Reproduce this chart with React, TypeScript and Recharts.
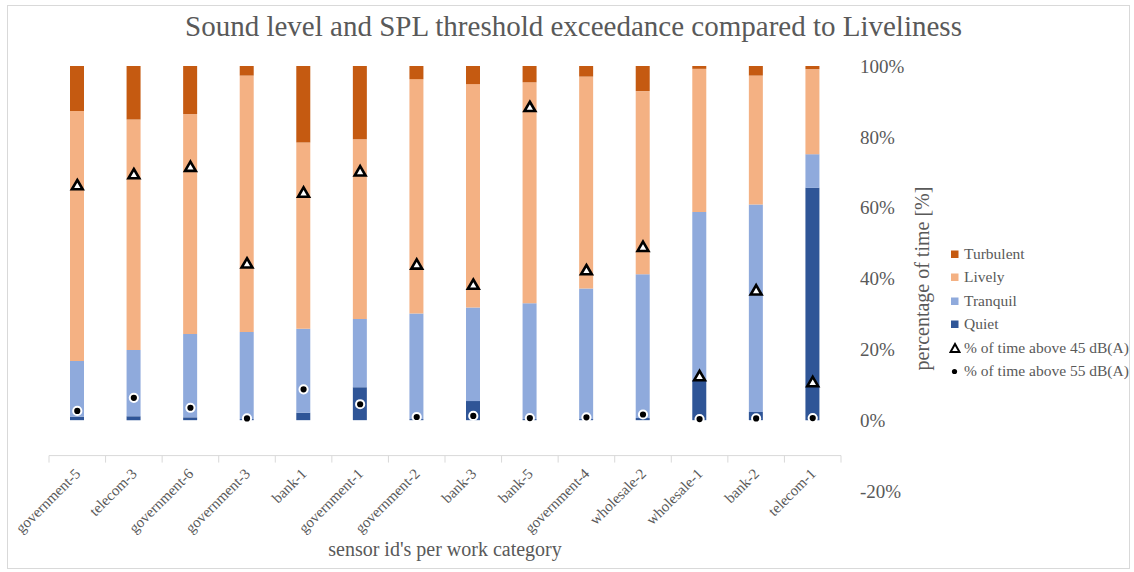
import React from "react";
import { ComposedChart, Bar, Line, XAxis, YAxis, Legend, ReferenceLine } from "recharts";

const categories = ["government-5","telecom-3","government-6","government-3","bank-1","government-1","government-2","bank-3","bank-5","government-4","wholesale-2","wholesale-1","bank-2","telecom-1"];
const quiet = [1, 1.1, 0.8, 0.3, 2.1, 9.3, 0.3, 5.4, 0.3, 0.3, 0.6, 11.3, 2.3, 65.6];
const tranquil = [15.7, 18.7, 23.5, 24.6, 23.7, 19.3, 29.8, 26.4, 32.7, 36.9, 40.6, 47.5, 58.6, 9.5];
const lively = [70.6, 65.1, 62.1, 72.4, 52.6, 50.7, 66.2, 63.1, 62.4, 59.8, 51.7, 40.4, 36.4, 24.0];
const turbulent = [12.7, 15.1, 13.6, 2.7, 21.6, 20.7, 3.7, 5.1, 4.6, 3.0, 7.1, 0.8, 2.7, 0.9];
const above45 = [66.4, 69.5, 71.6, 44.3, 64.3, 70.3, 44.0, 38.3, 88.5, 42.4, 49.0, 12.5, 36.7, 10.8];
const above55 = [2.6, 6.3, 3.5, 0.5, 8.7, 4.5, 0.9, 1.2, 0.6, 0.8, 1.6, 0.3, 0.5, 0.6];
const yTicks = [-20, 0, 20, 40, 60, 80, 100];
const AXIS_CROSS = -10;

const TITLE = "Sound level and SPL threshold exceedance compared to Liveliness";
const X_TITLE = "sensor id's per work category";
const Y_TITLE = "percentage of time [%]";

const COLORS = { Quiet: "#2F5597", Tranquil: "#8FAADC", Lively: "#F4B183", Turbulent: "#C55A11" };
const legendItems = [
  { name: "Turbulent", kind: "square" },
  { name: "Lively", kind: "square" },
  { name: "Tranquil", kind: "square" },
  { name: "Quiet", kind: "square" },
  { name: "% of time above 45 dB(A)", kind: "triangle" },
  { name: "% of time above 55 dB(A)", kind: "dot" },
];

const data = categories.map((c, i) => ({
  name: c,
  Quiet: quiet[i],
  Tranquil: tranquil[i],
  Lively: lively[i],
  Turbulent: turbulent[i],
  above45: above45[i],
  above55: above55[i],
}));

const FONT = "'Liberation Serif', 'Times New Roman', serif";
const TEXT = "#595959";
const W = 1134;
const H = 572;
const XAXIS_H = 81;
const YAXIS_W = 100;
const M = { top: 66, right: 193, bottom: 0, left: 49 };
const Y_MIN = -20;
const Y_MAX = 100;
const PLOT_H = H - M.top - M.bottom - XAXIS_H;
const PX_PER_UNIT = PLOT_H / (Y_MAX - Y_MIN);
const AXIS_DROP = (AXIS_CROSS - Y_MIN) * PX_PER_UNIT;

const Triangle = (props: any) => {
  const { cx, cy } = props;
  if (cx == null || cy == null) return null;
  return (
    <path
      d={`M${cx},${cy - 5} L${cx + 5.4},${cy + 4.3} L${cx - 5.4},${cy + 4.3} Z`}
      fill="#fff"
      stroke="#000"
      strokeWidth={2.6}
      strokeLinejoin="miter"
    />
  );
};

const Dot = (props: any) => {
  const { cx, cy } = props;
  if (cx == null || cy == null) return null;
  return <circle cx={cx} cy={cy} r={4.1} fill="#000" stroke="#fff" strokeWidth={2} />;
};

const CatTick = (props: any) => {
  const { x, y, payload, index } = props;
  const off = payload && payload.offset != null ? payload.offset : 28.3;
  const ay = y - AXIS_DROP;
  return (
    <g>
      <line x1={x - off} x2={x - off} y1={ay} y2={ay + 7} stroke="#d9d9d9" strokeWidth={1} />
      {index === categories.length - 1 && (
        <line x1={x + off} x2={x + off} y1={ay} y2={ay + 7} stroke="#d9d9d9" strokeWidth={1} />
      )}
      <text
        x={x + 4}
        y={ay + 19}
        transform={`rotate(-45, ${x + 4}, ${ay + 19})`}
        textAnchor="end"
        fill={TEXT}
        fontFamily={FONT}
        fontSize={15}
      >
        {payload.value}
      </text>
    </g>
  );
};

const LegendContent = () => (
  <div style={{ fontFamily: FONT, fontSize: 15.5, color: TEXT }}>
    {legendItems.map((it) => (
      <div key={it.name} style={{ height: 23.5, display: "flex", alignItems: "center", whiteSpace: "nowrap" }}>
        <svg width={12} height={12} style={{ marginRight: 3 }}>
          {it.kind === "square" && <rect x={2} y={2.5} width={7.5} height={7.5} fill={(COLORS as any)[it.name]} />}
          {it.kind === "triangle" && (
            <path d="M6,2 L10.5,10 L1.5,10 Z" fill="#fff" stroke="#000" strokeWidth={2} />
          )}
          {it.kind === "dot" && <circle cx={5.5} cy={6.5} r={2.6} fill="#000" />}
        </svg>
        <span>{it.name}</span>
      </div>
    ))}
  </div>
);

export default function App() {
  return (
    <div style={{ position: "absolute", left: 0, top: 0, width: W, height: H, background: "#fff" }}>
      <div
        style={{
          position: "absolute",
          left: 7,
          top: 5,
          width: 1123,
          height: 564,
          border: "1px solid #d9d9d9",
          boxSizing: "border-box",
        }}
      />
      <div
        style={{
          position: "absolute",
          left: 0,
          top: 12.4,
          width: 1147,
          textAlign: "center",
          fontFamily: FONT,
          fontSize: 29,
          lineHeight: "29px",
          color: TEXT,
          whiteSpace: "nowrap",
        }}
      >
        {TITLE}
      </div>
      <ComposedChart width={W} height={H} data={data} margin={M} barCategoryGap={0}>
        <XAxis
          dataKey="name"
          axisLine={false}
          tickLine={false}
          tickSize={0}
          tickMargin={0}
          interval={0}
          height={XAXIS_H}
          tick={<CatTick />}
          label={(p: any) => {
            const vb = p.viewBox || {};
            return (
              <text
                x={vb.x + vb.width / 2}
                y={vb.y + 65}
                textAnchor="middle"
                fill={TEXT}
                fontFamily={FONT}
                fontSize={20}
              >
                {X_TITLE}
              </text>
            );
          }}
        />
        <YAxis
          orientation="right"
          domain={[Y_MIN, Y_MAX]}
          ticks={yTicks}
          allowDataOverflow
          width={YAXIS_W}
          axisLine={false}
          tickLine={false}
          tickSize={0}
          tickMargin={19}
          tickFormatter={(v: number) => `${v}%`}
          tick={{ fill: TEXT, fontFamily: FONT, fontSize: 19 }}
          label={(p: any) => {
            const vb = p.viewBox || {};
            const cx = vb.x + 81;
            const cy = vb.y + vb.height / 2;
            return (
              <text
                x={cx}
                y={cy}
                transform={`rotate(-90, ${cx}, ${cy})`}
                textAnchor="middle"
                dominantBaseline="central"
                fill={TEXT}
                fontFamily={FONT}
                fontSize={20}
              >
                {Y_TITLE}
              </text>
            );
          }}
        />
        <ReferenceLine y={AXIS_CROSS} stroke="#d9d9d9" strokeWidth={1} />
        <Bar dataKey="Quiet" stackId="a" fill={COLORS.Quiet} barSize={14} isAnimationActive={false} />
        <Bar dataKey="Tranquil" stackId="a" fill={COLORS.Tranquil} barSize={14} isAnimationActive={false} />
        <Bar dataKey="Lively" stackId="a" fill={COLORS.Lively} barSize={14} isAnimationActive={false} />
        <Bar dataKey="Turbulent" stackId="a" fill={COLORS.Turbulent} barSize={14} isAnimationActive={false} />
        <Line dataKey="above45" stroke="none" dot={<Triangle />} activeDot={false} isAnimationActive={false} legendType="none" />
        <Line dataKey="above55" stroke="none" dot={<Dot />} activeDot={false} isAnimationActive={false} legendType="none" />
        <Legend
          layout="vertical"
          align="center"
          verticalAlign="middle"
          content={<LegendContent />}
          wrapperStyle={{ left: 949, top: 242, width: 185 }}
        />
      </ComposedChart>
    </div>
  );
}
